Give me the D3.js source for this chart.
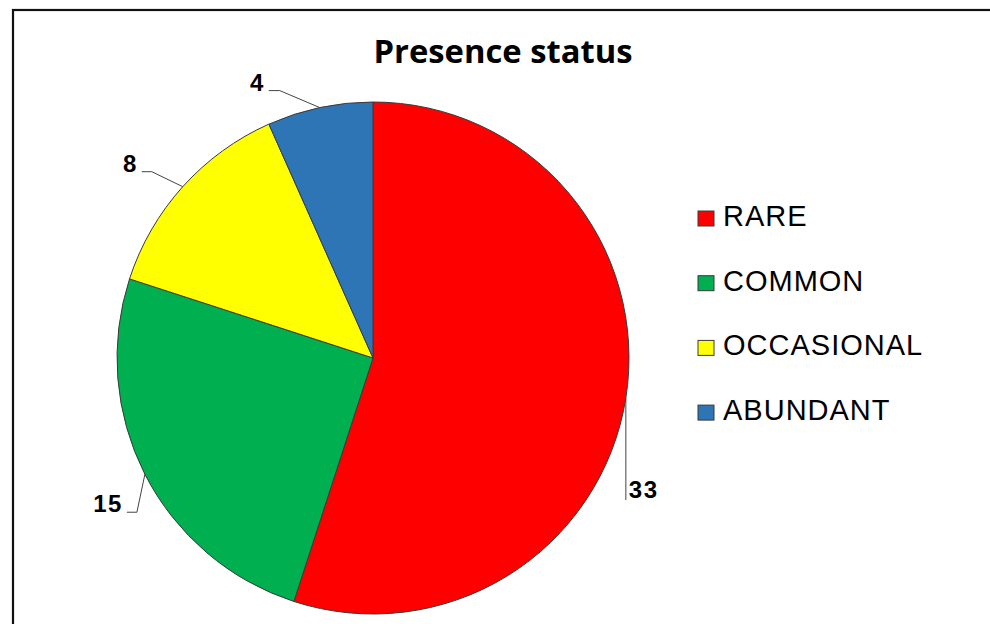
<!DOCTYPE html>
<html>
<head>
<meta charset="utf-8">
<script src="https://cdn.jsdelivr.net/npm/d3@7"></script>
<style>
  html, body { margin: 0; padding: 0; background: #fff; }
  svg { display: block; }
</style>
</head>
<body>
<svg id="chart" width="990" height="624"></svg>
<script>
// ---- data ----
const categories = ["RARE", "COMMON", "OCCASIONAL", "ABUNDANT"];
const values = [33, 15, 8, 4];
const colors = ["#FF0000", "#00B050", "#FFFF00", "#2E75B6"];
const title = "Presence status";

// ---- layout ----
const W = 990, H = 624;
const cx = 373, cy = 358, R = 256;
// label placement offsets (relative to slice mid-point on the arc)
const labelLayout = [
  { type: "vertical", len: 102 },
  { type: "elbow", dx: -8, dy: 38, tail: 10 },
  { type: "elbow", dx: -31, dy: -15, tail: 10 },
  { type: "elbow", dx: -40, dy: -17, tail: 11 }
];

const svg = d3.select("#chart");

// frame
svg.append("rect")
  .attr("x", 13).attr("y", 10)
  .attr("width", 1000).attr("height", 700)
  .attr("fill", "#fff")
  .attr("stroke", "#111").attr("stroke-width", 2.2);

// title
svg.append("text")
  .attr("x", 503).attr("y", 63)
  .attr("text-anchor", "middle")
  .attr("font-family", "'Open Sans', sans-serif")
  .attr("font-weight", "bold")
  .attr("font-size", 32)
  .attr("textLength", 259)
  .attr("lengthAdjust", "spacingAndGlyphs")
  .attr("fill", "#000")
  .text(title);

// pie
const data = categories.map((c, i) => ({ cat: c, value: values[i], color: colors[i], i }));
const pie = d3.pie().value(d => d.value).sort(null).startAngle(0).endAngle(2 * Math.PI);
const arcs = pie(data);
const arc = d3.arc().innerRadius(0).outerRadius(R);

const g = svg.append("g").attr("transform", `translate(${cx},${cy})`);
g.selectAll("path.slice")
  .data(arcs)
  .join("path")
  .attr("class", "slice")
  .attr("d", arc)
  .attr("fill", d => d.data.color)
  .attr("stroke", "#3a3a3a")
  .attr("stroke-width", 1);

// data labels with leader lines
arcs.forEach((a, i) => {
  const mid = (a.startAngle + a.endAngle) / 2;
  const px = R * Math.sin(mid), py = -R * Math.cos(mid);
  const L = labelLayout[i];
  const lab = g.append("text")
    .attr("font-family", "'Liberation Sans', Arial, sans-serif")
    .attr("font-weight", "bold")
    .attr("font-size", 24)
    .attr("letter-spacing", 1.5)
    .attr("fill", "#000")
    .text(a.data.value);
  if (L.type === "vertical") {
    g.append("path")
      .attr("d", `M${px},${py}L${px},${py + L.len}`)
      .attr("fill", "none").attr("stroke", "#444").attr("stroke-width", 1);
    lab.attr("x", px + 3).attr("y", py + L.len - 2).attr("text-anchor", "start");
  } else {
    const ex = px + L.dx, ey = py + L.dy;
    g.append("path")
      .attr("d", `M${px},${py}L${ex},${ey}L${ex - L.tail},${ey}`)
      .attr("fill", "none").attr("stroke", "#444").attr("stroke-width", 1);
    lab.attr("x", ex - L.tail - 4).attr("y", ey).attr("text-anchor", "end");
  }
});

// legend
const legend = svg.append("g").attr("transform", "translate(698,226)");
const rows = legend.selectAll("g.row")
  .data(data)
  .join("g")
  .attr("class", "row")
  .attr("transform", (d, i) => `translate(0,${i * 64.7})`);
rows.append("rect")
  .attr("x", 0).attr("y", -15)
  .attr("width", 16).attr("height", 15)
  .attr("fill", d => d.color)
  .attr("stroke", "#3a3a3a").attr("stroke-width", 1);
rows.append("text")
  .attr("x", 25).attr("y", 0)
  .attr("font-family", "'Liberation Sans', Arial, sans-serif")
  .attr("font-size", 29)
  .attr("letter-spacing", 1)
  .attr("fill", "#000")
  .text(d => d.cat);
</script>
</body>
</html>
